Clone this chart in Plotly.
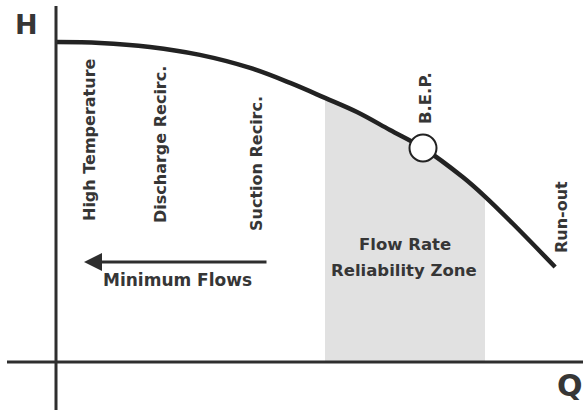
import plotly.graph_objects as go

# Pump head-capacity curve (flow and head in % of B.E.P.)
flow = [0, 12.0, 25.6, 39.2, 52.9, 63.8, 73.3, 82.0, 91.0, 100, 110.9, 116.9, 124.5, 136.0]
head = [149.5, 149.1, 147.2, 143.5, 137.4, 130.4, 123.4, 116.8, 108.4, 100, 86.3, 77.3, 64.6, 44.4]

# Flow rate reliability zone (subset of curve)
zone_flow = [73.3, 82.0, 91.0, 100, 110.9, 116.9]
zone_head = [123.4, 116.8, 108.4, 100, 86.3, 77.3]

bep_flow = [100]
bep_head = [100]

region_labels = ["High Temperature", "Discharge Recirc.", "Suction Recirc."]

W, H = 583, 412
X0, Y0 = 56, 362          # pixel position of origin
SX, SY = 3.67, 2.14       # pixels per unit

def qx(px):
    return (px - X0) / SX

def hy(py):
    return (Y0 - py) / SY

TXT = "#363636"
FONT = "DejaVu Sans"

fig = go.Figure()

# shaded zone
fig.add_trace(go.Scatter(x=zone_flow, y=zone_head, mode="lines", line=dict(width=0, shape="spline"),
                         fill="tozeroy", fillcolor="#e1e1e1", hoverinfo="skip", showlegend=False))

# axes as lines
fig.add_shape(type="line", x0=0, x1=0, y0=hy(410), y1=hy(6), line=dict(color="#2e2e2e", width=3))
fig.add_shape(type="line", x0=qx(7), x1=qx(583), y0=0, y1=0, line=dict(color="#2e2e2e", width=3))

# curve
fig.add_trace(go.Scatter(x=flow, y=head, mode="lines", line=dict(color="#222222", width=4.5, shape="spline"),
                         hoverinfo="skip", showlegend=False))

# BEP marker
fig.add_trace(go.Scatter(x=bep_flow, y=bep_head, mode="markers",
                         marker=dict(size=27, color="white", line=dict(color="#222222", width=2)),
                         hoverinfo="skip", showlegend=False))

def label(text, px, py, size=16, angle=0):
    fig.add_annotation(x=qx(px), y=hy(py), xref="x", yref="y", text=text, showarrow=False,
                       textangle=angle, font=dict(family=FONT, size=size, color=TXT, weight="bold"))

label("H", 26, 24, size=27)
label("Q", 570, 385, size=30)
label(region_labels[0], 89, 140, angle=-90)
label(region_labels[1], 160, 145, angle=-90)
label(region_labels[2], 256, 164, angle=-90)
label("B.E.P.", 425, 98, angle=-90, size=16.5)
label("Run-out", 561, 217, angle=-90, size=16)
label("Flow Rate", 405, 244, size=16.5)
label("Reliability Zone", 404, 270, size=16.5)
label("Minimum Flows", 177, 280, size=17)

# arrow for minimum flows
fig.add_annotation(x=qx(84), y=hy(262), ax=qx(268), ay=hy(262), xref="x", yref="y", axref="x", ayref="y",
                   text="", showarrow=True, arrowhead=2, arrowsize=1.2, arrowwidth=3, arrowcolor="#2e2e2e")

fig.update_xaxes(range=[qx(0), qx(W)], visible=False, fixedrange=True)
fig.update_yaxes(range=[hy(H), hy(0)], visible=False, fixedrange=True)
fig.update_layout(width=W, height=H, margin=dict(l=0, r=0, t=0, b=0),
                  paper_bgcolor="white", plot_bgcolor="white", showlegend=False, hovermode=False)

fig.write_html("out.html", config={"displayModeBar": False, "staticPlot": True},
               post_script="document.body.style.margin='0px';document.body.style.overflow='hidden';")
